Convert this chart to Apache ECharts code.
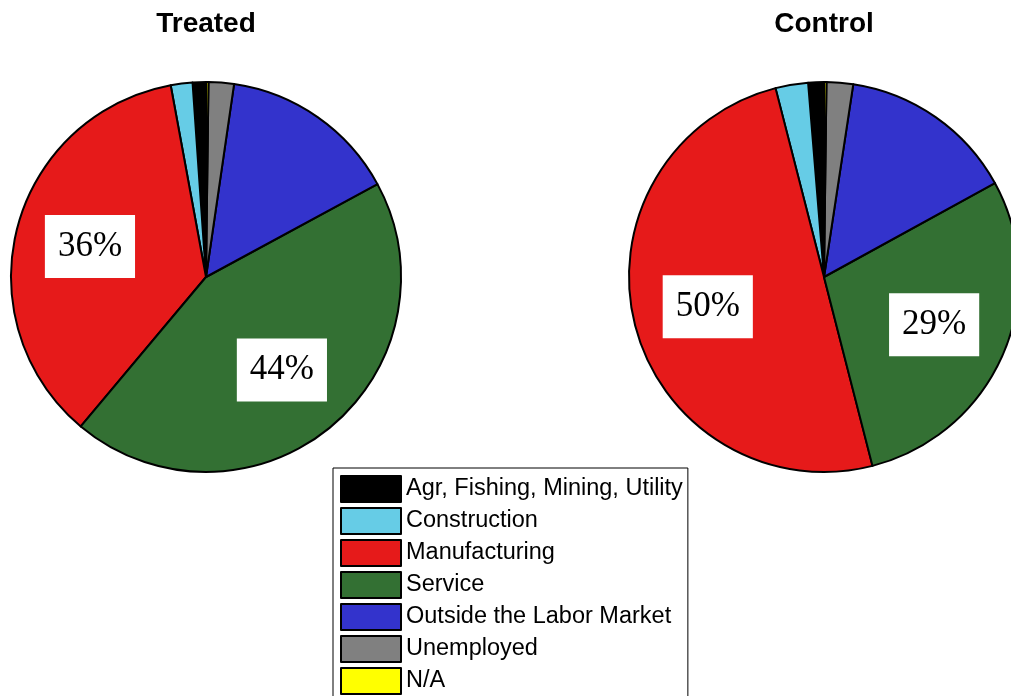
<!DOCTYPE html>
<html>
<head>
<meta charset="utf-8">
<script src="https://cdn.jsdelivr.net/npm/echarts@6/dist/echarts.min.js"></script>
<style>
html,body{margin:0;padding:0;background:#fff;}
#chart{width:1011px;height:696px;}
</style>
</head>
<body>
<div id="chart"></div>
<script>
var categories = ['Agr, Fishing, Mining, Utility', 'Construction', 'Manufacturing', 'Service', 'Outside the Labor Market', 'Unemployed', 'N/A'];
var colors = ['#000000', '#66CCE6', '#E61A1A', '#337033', '#3333CC', '#808080', '#FFFF00'];
var treatedValues = [1.1, 1.8, 36.0, 44.0, 14.8, 2.1, 0.2];
var controlValues = [1.3, 2.7, 50.0, 29.0, 14.6, 2.2, 0.2];
var labelledCategories = ['Manufacturing', 'Service'];
var titles = ['Treated', 'Control'];

var R = 195;
var centers = [[206, 277], [824, 277]];

function buildData(values, withLabels) {
  return categories.map(function (name, i) {
    var item = { name: name, value: values[i], itemStyle: { color: colors[i] } };
    if (withLabels) {
      item.label = { show: labelledCategories.indexOf(name) >= 0 };
      item.itemStyle = { color: 'rgba(0,0,0,0)', borderWidth: 0 };
    }
    return item;
  });
}

function mainPie(values, idx) {
  return {
    type: 'pie',
    name: titles[idx],
    center: centers[idx],
    radius: [0, R],
    startAngle: 90,
    clockwise: false,
    silent: true,
    avoidLabelOverlap: false,
    label: { show: false },
    labelLine: { show: false },
    itemStyle: { borderColor: '#000', borderWidth: 2 },
    emphasis: { disabled: true },
    data: buildData(values, false)
  };
}

function labelPie(values, idx) {
  return {
    type: 'pie',
    name: titles[idx] + ' labels',
    center: centers[idx],
    radius: [R * 0.2, R],
    startAngle: 90,
    clockwise: false,
    silent: true,
    percentPrecision: 0,
    avoidLabelOverlap: false,
    labelLine: { show: false },
    label: {
      position: 'inside',
      formatter: '{d}%',
      fontFamily: 'Liberation Serif',
      fontSize: 35,
      lineHeight: 35,
      color: '#000',
      backgroundColor: '#fff',
      padding: [14, 13]
    },
    emphasis: { disabled: true },
    data: buildData(values, true)
  };
}

var chart = echarts.init(document.getElementById('chart'));
chart.setOption({
  animation: false,
  backgroundColor: '#fff',
  title: titles.map(function (t, i) {
    return {
      text: t,
      left: centers[i][0],
      textAlign: 'center',
      top: 10,
      padding: 0,
      textStyle: { fontFamily: 'Liberation Sans', fontWeight: 'bold', fontSize: 28, color: '#000' }
    };
  }),
  legend: {
    data: categories,
    orient: 'vertical',
    left: 333,
    top: 468,
    height: 400,
    itemWidth: 60,
    itemHeight: 26,
    itemGap: 4,
    padding: [7, 5, 7, 7],
    borderColor: '#000',
    borderWidth: 1,
    backgroundColor: '#fff',
    selectedMode: false,
    icon: 'rect',
    itemStyle: { borderColor: '#000', borderWidth: 2 },
    textStyle: { fontFamily: 'Liberation Sans', fontSize: 23.5, lineHeight: 26, color: '#000' }
  },
  series: [
    mainPie(treatedValues, 0),
    mainPie(controlValues, 1),
    labelPie(treatedValues, 0),
    labelPie(controlValues, 1)
  ]
});
</script>
</body>
</html>
